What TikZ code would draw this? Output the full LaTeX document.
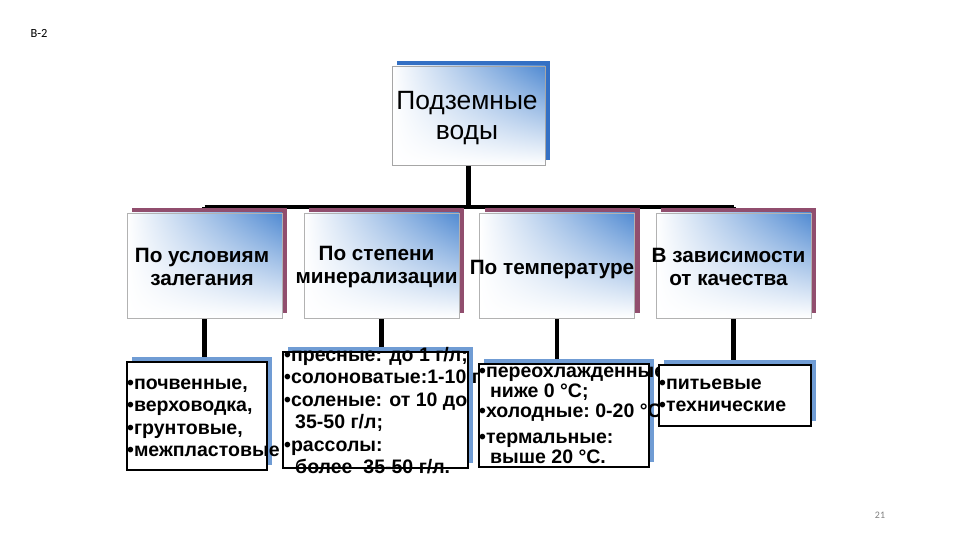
\documentclass[tikz,border=0pt]{standalone}
\usepackage{fontspec}
\setmainfont{Liberation Sans}
\newfontfamily\slidefont{Carlito}
\usetikzlibrary{positioning,shadows,shadings,backgrounds}
\definecolor{topblue}{RGB}{52,112,196}
\definecolor{shadeblue}{RGB}{80,138,210}
\definecolor{plum}{RGB}{145,78,110}
\definecolor{listblue}{RGB}{112,156,212}
\newcommand{\topstrut}{\rule{0pt}{12bp}}

\begin{document}
\begin{tikzpicture}[
  x=1bp, y=-1bp,
  every node/.style={inner sep=0pt},
  title/.style={draw=gray!70, line width=0.6bp, minimum width=153bp, minimum height=99bp,
    upper left=white, lower left=white, lower right=white, upper right=shadeblue,
    general shadow={fill=topblue, shadow xshift=5bp, shadow yshift=5bp}},
  group/.style={draw=gray!60, line width=0.5bp, minimum width=155bp, minimum height=105bp,
    upper left=white, lower left=white, lower right=white, upper right=shadeblue,
    general shadow={fill=plum, shadow xshift=5bp, shadow yshift=5bp}},
  list/.style={draw=black, line width=1.4bp, fill=white,
    general shadow={fill=listblue, shadow xshift=5bp, shadow yshift=5bp}},
  titletext/.style={align=center, font=\fontsize{26.5}{30}\selectfont},
  grouptext/.style={align=center, font=\bfseries\fontsize{20.8}{23}\selectfont},
  listtext/.style={anchor=north west, align=left, font=\bfseries\fontsize{19.6}{22.5}\selectfont},
  wire/.style={line width=4.5bp, black}
]
\useasboundingbox (0,0) rectangle (960,540);

% header and page number
\node[font=\slidefont\fontsize{12.5}{14}\selectfont] (slideid) at (39,33) {В-2};
\node[font=\slidefont\fontsize{10}{12}\selectfont, text=gray] (pagenum) at (880,515) {21};

% top level
\node[title] (groundwater) at (468.5,115.5) {};
\node[titletext] (groundwatertext) at (467,118) {Подземные\\воды};

% classification criteria
\node[group] (occur) at (204.5,265.5) {};
\node[grouptext] (occurtext) at (202,267) {По условиям\\залегания};
\node[group] (mineral) at (381.5,265.5) {};
\node[grouptext] (mineraltext) at (376.5,267) {По степени\\минерализации};
\node[group] (temper) at (557,265.5) {};
\node[grouptext] (tempertext) at (552,270) {По температуре};
\node[group] (quality) at (733.5,265.5) {};
\node[grouptext] (qualitytext) at (728.5,267) {В зависимости\\от качества};

% lists
\node[list, minimum width=140bp, minimum height=108bp] (occurlist) at (197,416) {};
\node[listtext] (occurlisttext) at (127,377) {\topstrut•почвенные,\\•верховодка,\\•грунтовые,\\•межпластовые};
\node[list, minimum width=185bp, minimum height=116bp] (minerallist) at (375.5,410) {};
\node[listtext] (minerallisttext) at (284,347) {\topstrut•пресные: до 1 г/л;\\•солоноватые:1-10 г/л;\\•соленые: от 10 до\\\hspace*{11bp}35-50 г/л;\\•рассолы:\\\hspace*{11bp}более\ \ 35-50 г/л.};
\node[list, minimum width=170bp, minimum height=103bp] (temperlist) at (564,415.5) {};
\node[listtext, font=\bfseries\fontsize{19.6}{20}\selectfont] (temperlisttext) at (479,365) {\topstrut•переохлажденные:\\\hspace*{11bp}ниже 0 °С;\\•холодные:\ 0-20 °С;\\[7bp]•термальные:\\\hspace*{11bp}выше 20 °С.};
\node[list, minimum width=152bp, minimum height=61bp] (qualitylist) at (735,395.5) {};
\node[listtext] (qualitylisttext) at (659,377) {\topstrut•питьевые\\•технические};

% connectors
\begin{scope}[on background layer]
\coordinate (bus) at (0,207);
\draw[wire] (groundwater.south) -- (groundwater.south |- bus);
\draw[wire] (occur.north |- bus) -- (quality.north |- bus);
\foreach \crit in {occur,mineral,temper,quality}
  \draw[wire] (\crit.north |- bus) -- (\crit.north);
\draw[wire] (occur.south) -- (occur.south |- occurlist.north);
\draw[wire] (mineral.south) -- (mineral.south |- minerallist.north);
\draw[wire] (temper.south) -- (temper.south |- temperlist.north);
\draw[wire] (quality.south) -- (quality.south |- qualitylist.north);
\end{scope}
\end{tikzpicture}
\end{document}
